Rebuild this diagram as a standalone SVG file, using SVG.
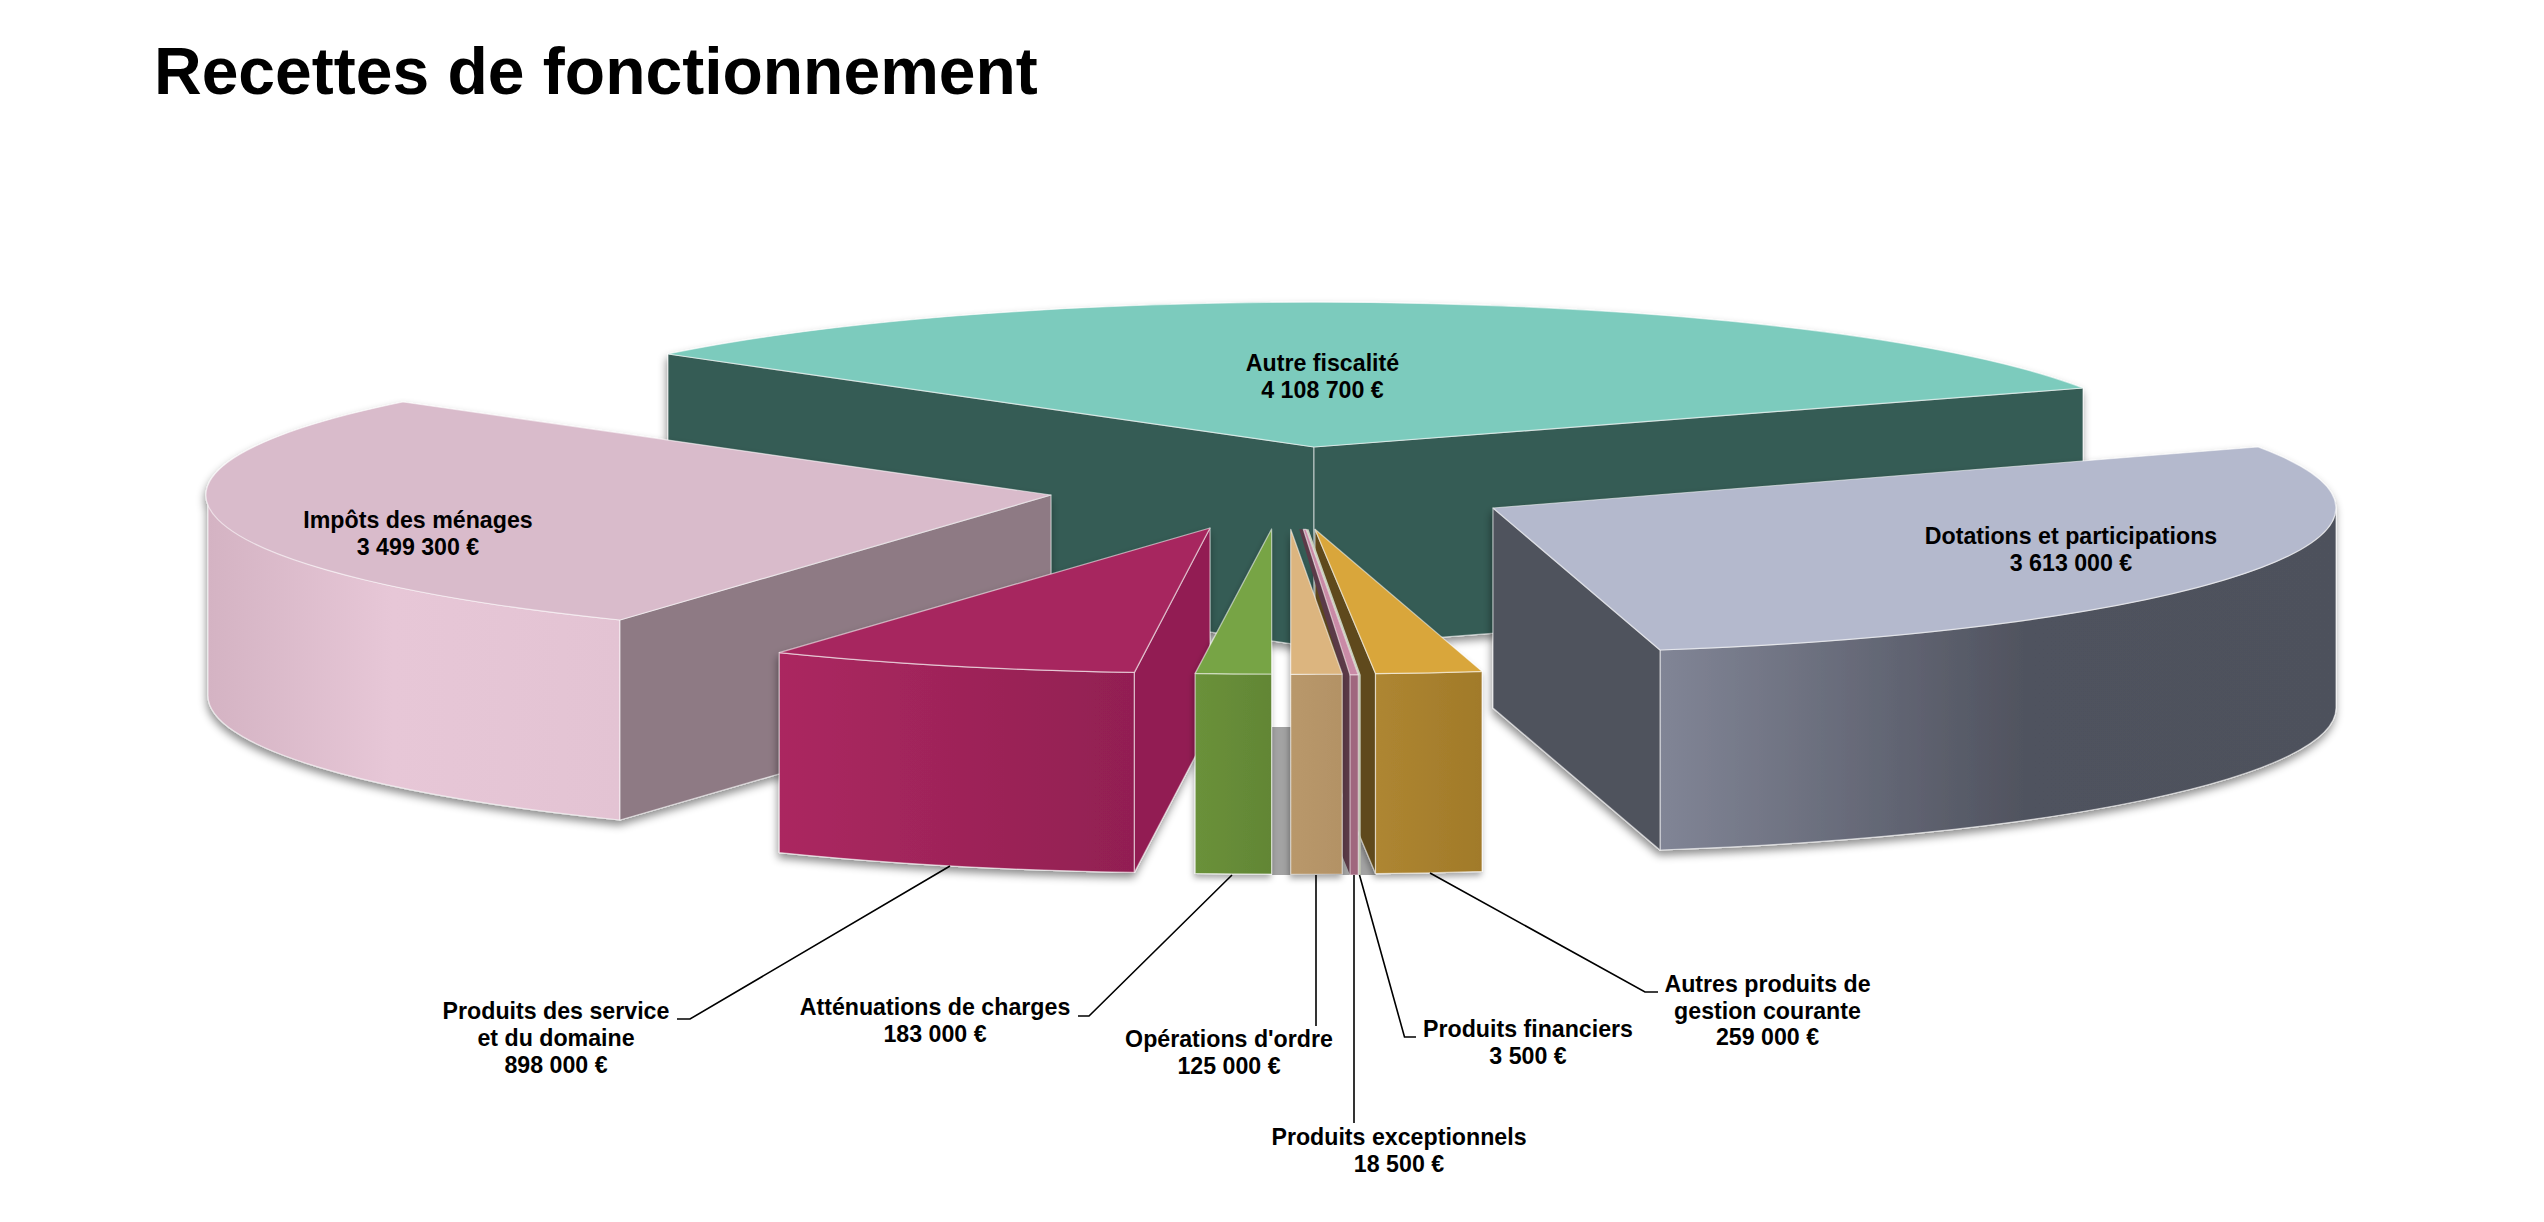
<svg xmlns="http://www.w3.org/2000/svg" width="2544" height="1222" viewBox="0 0 2544 1222">
<defs>
<style>
.lbl{font-family:"Liberation Sans",Arial,Helvetica,sans-serif;font-weight:bold;font-size:23.2px;fill:#000;text-anchor:middle}
.ttl{font-family:"Liberation Sans",Arial,Helvetica,sans-serif;font-weight:bold;font-size:66px;fill:#000}
.f{stroke:#ffffff;stroke-opacity:0.55;stroke-width:1.2;stroke-linejoin:round}
.ld{fill:none;stroke:#000;stroke-width:1.6}
</style>
<filter id="sh" x="-20%" y="-20%" width="140%" height="140%">
<feDropShadow dx="-1" dy="5" stdDeviation="4" flood-color="#000" flood-opacity="0.45"/>
</filter>
<filter id="shs" x="-100%" y="-20%" width="300%" height="140%">
<feDropShadow dx="-1" dy="4" stdDeviation="3" flood-color="#000" flood-opacity="0.35"/>
</filter>
<linearGradient id="gPink" gradientUnits="userSpaceOnUse" x1="208" y1="0" x2="620" y2="0">
<stop offset="0" stop-color="#d4b3c3"/><stop offset="0.45" stop-color="#e7c7d7"/><stop offset="1" stop-color="#e3c3d3"/>
</linearGradient>
<linearGradient id="gDot" gradientUnits="userSpaceOnUse" x1="1660" y1="0" x2="2336" y2="0">
<stop offset="0" stop-color="#818596"/><stop offset="0.55" stop-color="#4f525e"/><stop offset="1" stop-color="#4e515c"/>
</linearGradient>
<linearGradient id="gMag" gradientUnits="userSpaceOnUse" x1="779" y1="0" x2="1134" y2="0">
<stop offset="0" stop-color="#ab2860"/><stop offset="1" stop-color="#921f52"/>
</linearGradient>
<linearGradient id="gGrn" gradientUnits="userSpaceOnUse" x1="1195" y1="0" x2="1272" y2="0">
<stop offset="0" stop-color="#6a913a"/><stop offset="1" stop-color="#628635"/>
</linearGradient>
<linearGradient id="gBei" gradientUnits="userSpaceOnUse" x1="1290" y1="0" x2="1342" y2="0">
<stop offset="0" stop-color="#b9986b"/><stop offset="1" stop-color="#b39265"/>
</linearGradient>
<linearGradient id="gGold" gradientUnits="userSpaceOnUse" x1="1375" y1="0" x2="1482" y2="0">
<stop offset="0" stop-color="#ae8631"/><stop offset="1" stop-color="#a17a2a"/>
</linearGradient>
</defs>
<rect x="0" y="0" width="2544" height="1222" fill="#ffffff"/>
<text class="ttl" x="154" y="94">Recettes de fonctionnement</text>

<g id="autre-fiscalite">
<g filter="url(#sh)">
<polygon class="f" points="668,354 1314,447 1314,647 668,554" fill="#365c55"/>
<polygon class="f" points="1314,447 2083,388 2083,588 1314,647" fill="#365c55"/>
<path class="f" d="M1314 447 L668 354 A843 145 0 0 1 2083 388 Z" fill="#7ccbbd"/>
</g>
<text class="lbl" x="1322.5" y="371">Autre fiscalité</text>
<text class="lbl" x="1322.5" y="398">4 108 700 €</text>
</g>

<g id="impots-menages">
<g filter="url(#sh)">
<path class="f" d="M620 620 A843 145 0 0 1 208 495 L208 695 A843 145 0 0 0 620 820 Z" fill="url(#gPink)"/>
<polygon class="f" points="620,620 1051,495 1051,695 620,820" fill="#8e7a84"/>
<path class="f" d="M1051 495 L403 402 A843 145 0 0 0 620 620 Z" fill="#d9bbcb"/>
</g>
<text class="lbl" x="418" y="528">Impôts des ménages</text>
<text class="lbl" x="418" y="555">3 499 300 €</text>
</g>

<g id="dotations">
<g filter="url(#sh)">
<path class="f" d="M2336 508 A843 145 0 0 1 1660 650 L1660 850 A843 145 0 0 0 2336 708 Z" fill="url(#gDot)"/>
<polygon class="f" points="1493,508 1660,650 1660,850 1493,708" fill="#4f525d"/>
<path class="f" d="M1493 508 L2258 447 A843 145 0 0 1 1660 650 Z" fill="#b4b9cd"/>
</g>
<text class="lbl" x="2071" y="544">Dotations et participations</text>
<text class="lbl" x="2071" y="571">3 613 000 €</text>
</g>

<rect id="floor" x="1272" y="727" width="104" height="148" fill="#a3a3a3"/>

<g id="produits-service">
<g filter="url(#sh)">
<path class="f" d="M1134.4 672.4 A843 145 0 0 1 779.3 652.6 L779.3 852.6 A843 145 0 0 0 1134.4 872.4 Z" fill="url(#gMag)"/>
<polygon class="f" points="1210,528 1134.4,672.4 1134.4,872.4 1210,728" fill="#921f53"/>
<path class="f" d="M1210 528 L1134.4 672.4 A843 145 0 0 1 779.3 652.6 Z" fill="#a7285e"/>
</g>
<text class="lbl" x="556" y="1019">Produits des service</text>
<text class="lbl" x="556" y="1046">et du domaine</text>
<text class="lbl" x="556" y="1073">898 000 €</text>
</g>

<g id="attenuations">
<g filter="url(#shs)">
<path class="f" d="M1271.6 674 A843 145 0 0 1 1195.2 673.4 L1195.2 873.4 A843 145 0 0 0 1271.6 874 Z" fill="url(#gGrn)"/>
<path class="f" d="M1271.6 529 L1271.6 674 A843 145 0 0 1 1195.2 673.4 Z" fill="#77a444"/>
</g>
<text class="lbl" x="935" y="1015">Atténuations de charges</text>
<text class="lbl" x="935" y="1042">183 000 €</text>
</g>

<g id="autres-produits">
<g filter="url(#shs)">
<polygon class="f" points="1315,529.3 1375.5,673.6 1375.5,873.6 1315,729.3" fill="#5f4a1a"/>
<path class="f" d="M1375.5 673.6 A843 145 0 0 0 1482 671.4 L1482 871.4 A843 145 0 0 1 1375.5 873.6 Z" fill="url(#gGold)"/>
<path class="f" d="M1315 529.3 L1375.5 673.6 A843 145 0 0 0 1482 671.4 Z" fill="#d9a63a"/>
</g>
<text class="lbl" x="1767.5" y="992">Autres produits de</text>
<text class="lbl" x="1767.5" y="1019">gestion courante</text>
<text class="lbl" x="1767.5" y="1045">259 000 €</text>
</g>

<g id="produits-financiers">
<polygon points="1306,529.3 1308.5,529.3 1360.7,675 1358.3,675" fill="#c8cfbb"/>
<rect x="1358.3" y="675" width="2.4" height="200" fill="#c2c8b4"/>
<text class="lbl" x="1528" y="1037">Produits financiers</text>
<text class="lbl" x="1528" y="1064">3 500 €</text>
</g>

<g id="produits-exceptionnels">
<polygon points="1299.3,529.3 1303.3,529.3 1350,675 1350,875 1342.3,856 1342.3,675" fill="#5b3a48"/>
<polygon class="f" points="1303.3,529.3 1306,529.3 1358.3,675 1350,675" fill="#c98aa6"/>
<rect class="f" x="1350" y="675" width="8.3" height="200" fill="#a0677e"/>
<text class="lbl" x="1399" y="1145">Produits exceptionnels</text>
<text class="lbl" x="1399" y="1172">18 500 €</text>
</g>

<g id="operations-ordre">
<g filter="url(#shs)">
<path class="f" d="M1290.7 674.3 L1342.2 674 L1342.2 874 L1290.7 874.3 Z" fill="url(#gBei)"/>
<path class="f" d="M1290.7 529.3 L1342.2 674 A843 145 0 0 1 1290.7 674.3 Z" fill="#dcb57f"/>
</g>
<text class="lbl" x="1229" y="1047">Opérations d'ordre</text>
<text class="lbl" x="1229" y="1074">125 000 €</text>
</g>

<g id="connectors">
<polyline class="ld" points="950,866 690,1019 677,1019"/>
<polyline class="ld" points="1232,875 1089,1016 1078,1016"/>
<polyline class="ld" points="1316,875 1316,1026"/>
<polyline class="ld" points="1354,875 1354,1123"/>
<polyline class="ld" points="1359.5,875 1404.5,1037 1416,1037"/>
<polyline class="ld" points="1430,873 1645,992 1658,992"/>
</g>
</svg>
